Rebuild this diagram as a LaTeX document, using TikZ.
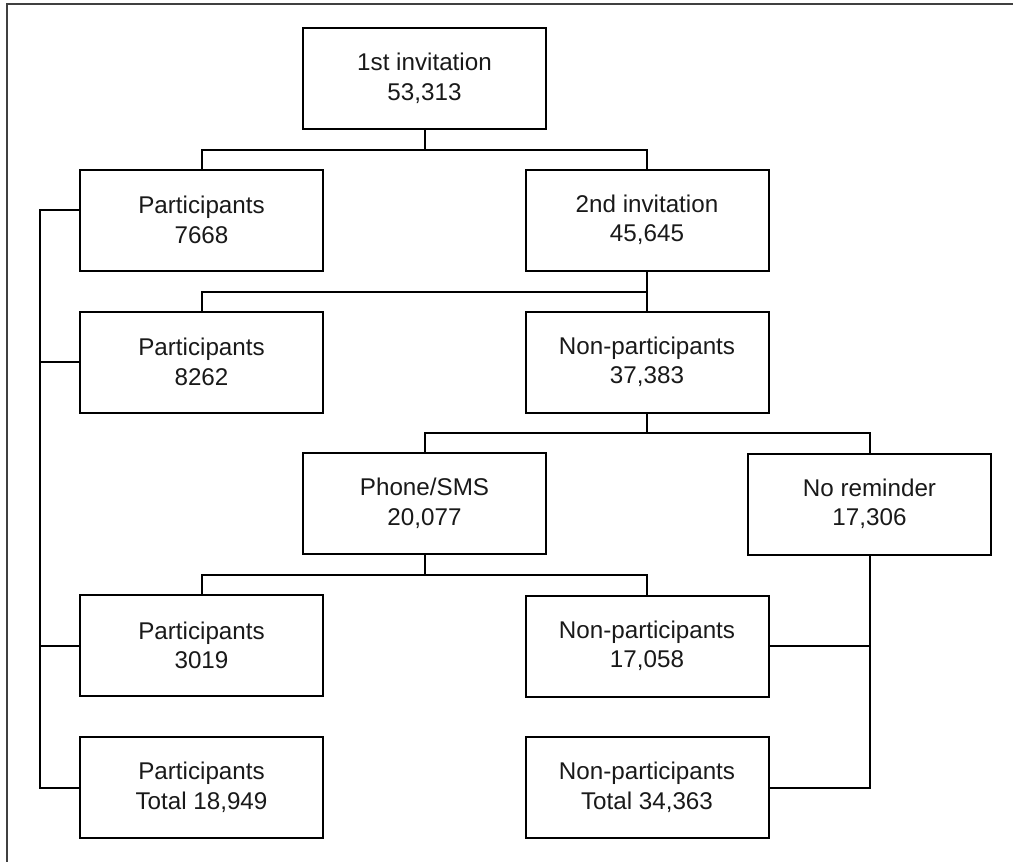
\documentclass[tikz,border=0pt]{standalone}
\usepackage{fontspec}
\setmainfont{Liberation Sans}
\begin{document}
\begin{tikzpicture}[x=1pt,y=-1pt,
  box/.style={draw=black,line width=2pt,rectangle,minimum width=243pt,minimum height=101pt,
    inner sep=0pt,align=center,font=\fontsize{24.2}{29.5}\selectfont,text=black!90},
  conn/.style={draw=black,line width=2pt}]
\useasboundingbox (0,0) rectangle (1013,862);
\draw[line width=1.5pt,draw=black!75] (7,870) -- (7,4) -- (1020,4);
\node[box] (top) at (424.5,78.5) {1st invitation\\53,313};
\node[box] (p1) at (201.5,220) {Participants\\7668};
\node[box] (inv2) at (647,220) {2nd invitation\\45,645};
\node[box] (p2) at (201.5,362) {Participants\\8262};
\node[box] (np1) at (647,362) {Non-participants\\37,383};
\node[box] (sms) at (424.5,503.5) {Phone/SMS\\20,077};
\node[box] (nor) at (869.5,504) {No reminder\\17,306};
\node[box] (p3) at (201.5,645.5) {Participants\\3019};
\node[box] (np2) at (647,646) {Non-participants\\17,058};
\node[box] (pt) at (201.5,787.5) {Participants\\Total 18,949};
\node[box] (npt) at (647,787.5) {Non-participants\\Total 34,363};
% tree connectors
\draw[conn] (top.south) -- (424.5,150) coordinate (b1);
\draw[conn] (p1.north) |- (b1) -| (inv2.north);
\draw[conn] (inv2.south) -- (647,292) coordinate (b2);
\draw[conn] (p2.north) |- (b2) -- (np1.north);
\draw[conn] (np1.south) -- (647,433) coordinate (b3);
\draw[conn] (sms.north) |- (b3) -| (nor.north);
\draw[conn] (sms.south) -- (424.5,575) coordinate (b4);
\draw[conn] (p3.north) |- (b4) -| (np2.north);
% left participant bus
\coordinate (lb1) at (40,210);
\coordinate (lb2) at (40,787.5);
\draw[conn] (p1.west |- lb1) -- (lb1) -- (lb2) -- (pt.west);
\draw[conn] (p2.west) -- (40,362);
\draw[conn] (p3.west) -- (40,645.5);
% right non-participant bus
\coordinate (rb) at (869.5,787.5);
\draw[conn] (nor.south) -- (rb) -- (npt.east);
\draw[conn] (np2.east) -- (869.5,646);
\end{tikzpicture}
\end{document}
